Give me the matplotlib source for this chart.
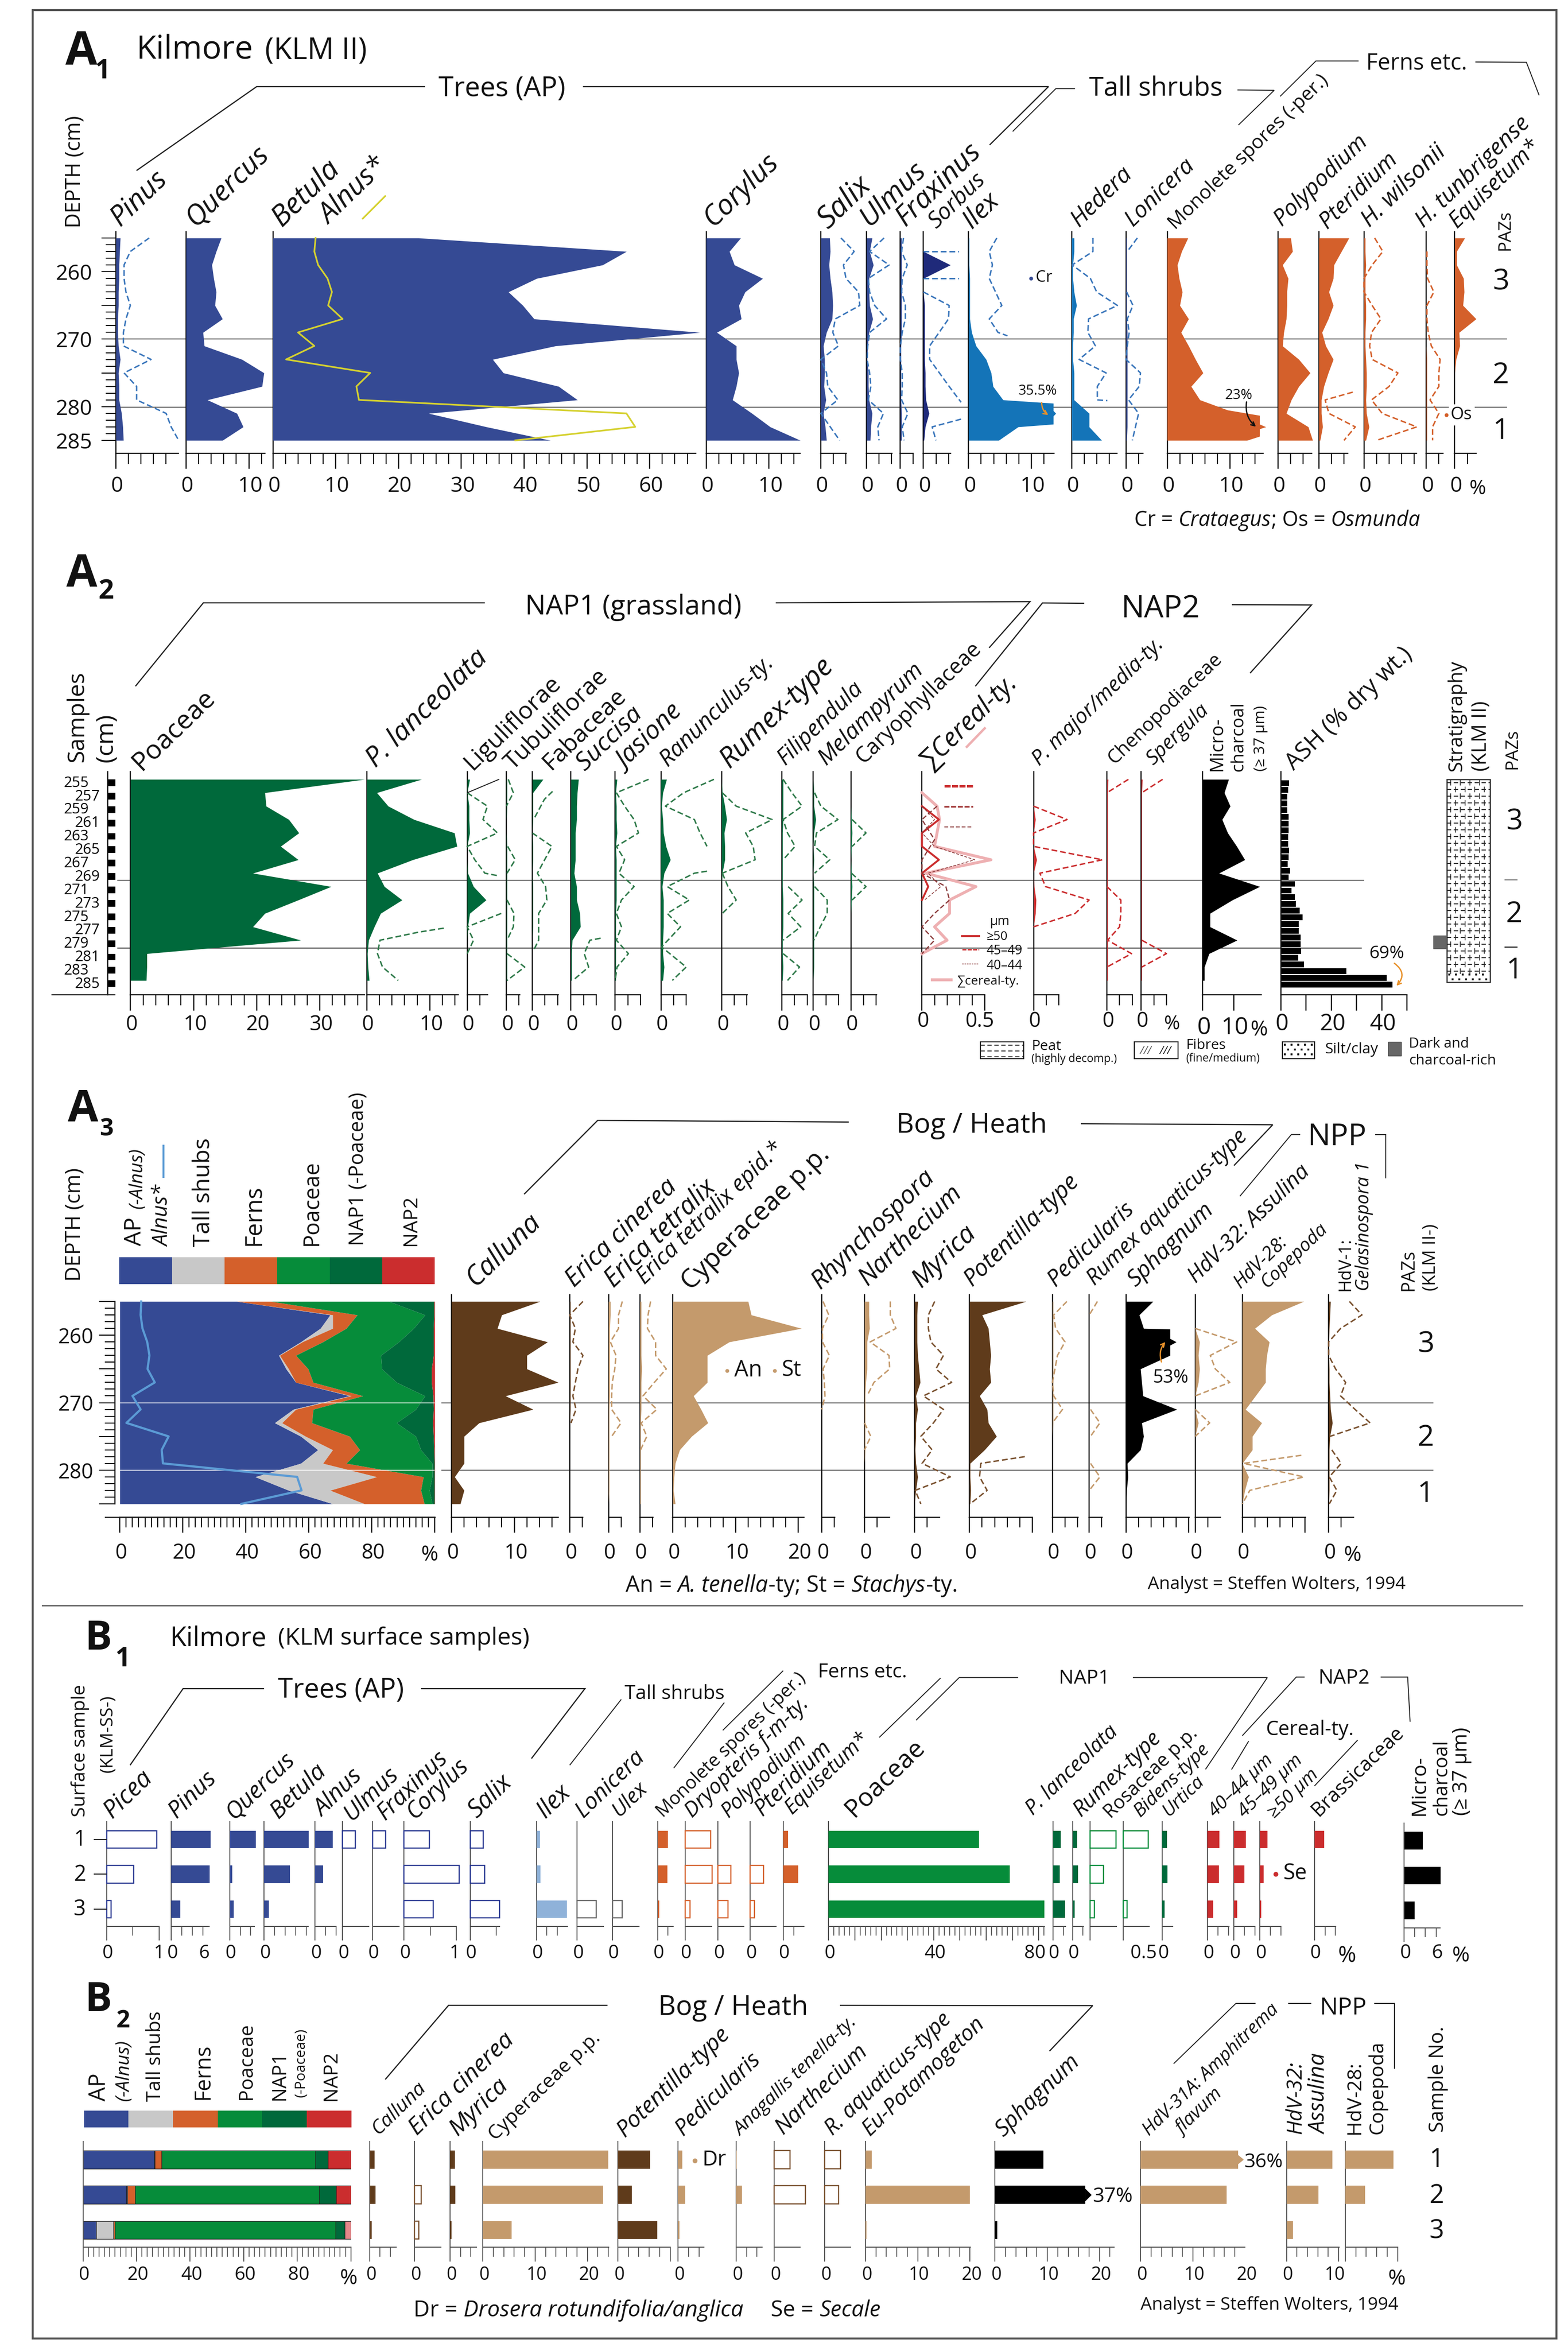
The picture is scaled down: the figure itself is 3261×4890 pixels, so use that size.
import numpy as np
import matplotlib
matplotlib.use("Agg")
import matplotlib.pyplot as plt
from matplotlib.font_manager import FontProperties
from matplotlib.textpath import TextPath
from matplotlib.patches import Rectangle
import warnings, logging
warnings.filterwarnings("ignore")
logging.getLogger("matplotlib.font_manager").setLevel(logging.ERROR)

plt.rcParams['font.family'] = ['Open Sans', 'DejaVu Sans']

# ---------- colours
BLUE='#354a94'; NAVY='#1f2a7a'; LBLUE='#1474b8'; DBLUE='#3a76bb'; PALE='#8fb2d9'
ORANGE='#d4602b'; GREEN='#068c3a'; DGREEN='#00693b'; DASHG='#2f7a4a'; RED='#cb2d2e'
BROWN='#5f3b1b'; TAN='#c49a6c'; GRAY='#c8c8c8'; PINK='#eeb0b2'; DRED='#8a3a3a'

# ---------- shared depth grid
DEPTHS=[255,257,259,261,263,265,267,269,271,273,275,277,279,281,283,285]
DEPTHS_TO_279=DEPTHS[:13]

# ---------- A1 values
a1_pinus=[.7,.6,.5,.5,.4,.4,.3,.3,.4,.7,.4,.5,.5,.9,1.1,1.2]
a1_pinus_x=[5.3,2.3,1.3,1.3,1.6,2.3,1.6,1.2,1.2,5.6,1.3,3.3,3.3,8,8.8,10]
a1_quercus=[5.6,4.8,4.1,4.4,4.8,4.6,5.8,2.7,2.9,8.9,12.4,12.1,3.4,8.1,9.1,5.8]
a1_betula=[23.2,56.3,52.5,42,37.5,39.8,41.6,68,45,35,36.7,45.5,48.5,24.8,34,44.2]
alnus=[6.8,6.6,7.2,8.7,9.4,8.8,11.1,4,6.6,2.1,15.5,13.3,13.7,56.3,57.7,38.6]
a1_corylus=[5.5,3.7,4.5,9,6.2,5.2,5.6,1.7,4.8,4.8,5.2,4.8,4.2,7.3,10.2,15]
a1_salix=[1.4,1.5,1.3,1.5,1.8,1.9,1.8,.9,.4,.6,.6,.5,.8,.4,.7,.9]
a1_salix_x=[3.2,5.3,3.6,4,6,6.2,2.3,1.9,2.8,0,.9,1.1,2.7,0,1.5,3]
a1_ulmus=[.9,.5,1.1,.4,.4,.5,1,.4,.2,.1,.3,.3,.4,.9,.7,.6]
a1_ulmus_x=[2.8,.5,3.6,.3,.5,1.3,3.2,.5,.2,.1,.5,.7,.3,2.7,1.8,2]
a1_frax=[.2,.2,.2,.2,.2,.2,.2,.2,.1,.1,.1,.1,.1,.2,.2,.2]
a1_frax_x=[.5,.2,1.1,.3,.2,.8,.8,.3,0,0,.3,.3,.2,1.2,.3,.6]
a1_sorbus=[0,0,4.3,0,0,.2,.2,.2,.2,.2,.3,.3,.4,.9,.3,.1]
a1_sorbus_x1_d=[257,257]; a1_sorbus_x1=[0,5.6]
a1_sorbus_x2_d=[261,261]; a1_sorbus_x2=[0,5.6]
a1_sorbus_x3_d=[263,265,267,271,273,277,279.35]; a1_sorbus_x3=[0,4.1,4,1,1,4.1,6]
a1_sorbus_x4_d=[281.85,283,285]; a1_sorbus_x4=[6,1.4,2]
a1_ilex_d=DEPTHS_TO_279+[279.5,280.6,281,281.4,282.6,283,285]
a1_ilex=[.1,.1,.1,.2,.2,.2,.2,.5,1.2,2.8,3.6,3.9,5.5,13.5,13.5,13.9,13.5,13.5,7.9,4.8]
a1_ilex_x_d=[255,257,259,261,263,265,267,269,269.5]
a1_ilex_x=[4.5,3.3,3.8,3.3,4.3,5.3,3.3,4.7,6.2]
a1_hedera=[.4,.4,.2,.2,.4,.8,.3,.3,.2,.2,.4,.4,.4,2.8,2.8,4.8]
a1_hedera_x_d=DEPTHS_TO_279+[279.1]
a1_hedera_x=[3.4,3.4,.1,3,4,7.3,2.7,2.6,3.8,1.2,5.5,4.1,4.1,5.7]
a1_lonicera=[.1,.1,.1,.1,.1,.1,.1,.2,.2,.2,.2,.2,.2,.2,.2,.1]
a1_lonicera_x=[1.8,.2,None,None,.1,1.1,.2,.5,.2,0,2.3,2.1,.4,2,1.5,1]
a1_monolete_d=DEPTHS_TO_279+[280.5,281.3,282.6,283,283.3,284.4,285]
a1_monolete=[3.3,2.3,1.6,1.9,2.4,2,3.4,2.2,3.4,4.5,5.7,3.8,5.2,9.6,14.7,14.7,15.7,14.7,14.7,12.7]
a1_polypod=[2,2.3,.7,1.6,1.4,1.4,1.3,.9,.7,3.3,5.1,3.3,2.1,1.3,4.8,5.5]
a1_pterid=[4.8,3.6,2.4,2.3,1.6,2.3,1.5,.5,1.1,2.3,1.5,.8,.4,.4,.6,.2]
a1_pterid_x_d=[277.85,279,281,283,285]; a1_pterid_x=[5.4,1,1.6,5.8,4]
a1_wilson=[.2,.2,.3,.2,.2,.3,.3,.2,.2,.3,.4,.4,.3,.4,.8,.3]
a1_wilson_x=[1.7,3,1.3,0,0,1.3,2.7,1.2,.9,1.3,5.4,4,1.2,2.9,8.4,2]
a1_tunbr_x=[None,.1,.1,.2,1.2,.1,.1,.3,.8,2.2,2,2,.6,2,1,1]
a1_tunbr=[0,0,0,0,0,0,0,0,0,.1,.1,.1,.1,.1,.1,.1]
a1_equis=[1.6,.3,.3,1.4,1.5,1.3,3.4,.7,.8,.2,0,0,0,0,0,0]

# ---------- A2 values
a2_poaceae=[37.1,21.3,21.5,25.1,26.7,23.8,26.6,19.4,31.8,26.6,21.3,19.4,27,2.6,2.6,2.5]
a2_plan=[8.7,1.6,3.4,7.5,13.9,14.3,7.3,1.7,2.8,5.6,2.2,1.2,.3,.1,.2,.4]
a2_plan_x_d=[277.2,277.8,279,281,283,285]; a2_plan_x=[12.2,8.2,2.1,1.7,2.5,5]
a2_ligul=[.4,0,.3,.3,.4,0,0,.1,1,3,.4,.1,0,0,0,0]
a2_ligul_x1_d=[257,259,261,263,265,267,269,269.4]; a2_ligul_x1=[0,3.2,2.5,4.8,0,1.2,2.8,5]
a2_ligul_x2_d=[275,277,279,281]; a2_ligul_x2=[5.4,0,1,0]
a2_tubul=[.1,.1,.1,0,0,.1,.1,.1,.1,.1,.1,.1,.1,.1,.1,.1]
a2_tubul_x1_d=[255,257,259]; a2_tubul_x1=[.3,1.1,0]
a2_tubul_x2_d=[265,267,269]; a2_tubul_x2=[.2,1.4,.1]
a2_tubul_x3_d=[273,275,277,279]; a2_tubul_x3=[.1,1.2,1.1,.1]
a2_tubul_x4_d=[281,283,285]; a2_tubul_x4=[.1,2.9,.1]
a2_fabac=[1.7,.1,.1,.1,0,.1,.1,0,.1,.1,.1,.1,0,0,0,0]
a2_fabac_x1_d=[256.8,258,261]; a2_fabac_x1=[3.2,1.9,.2]
a2_fabac_x2_d=[263,265,269,271,273,275,279,280.5]; a2_fabac_x2=[0,3.1,.8,2.1,2.3,1,1,.2]
a2_succ=[1.2,1,.9,.9,.7,.7,.7,.5,.9,.9,1.4,1.5,.2,.1,.1,.1]
a2_succ_x_d=[278.7,279,281,283,285]; a2_succ_x=[4.7,3,2.1,2.8,.3]
a2_jas=[.3,.1,.2,.2,.3,.1,.2,.2,.2,.2,.1,.1,.1,.1,.1,.1]
a2_jas_x=[5.3,.2,1.5,3,3.7,.2,1.5,.6,3,1,.2,1,.2,2.1,.3,0]
a2_ran=[.9,.3,.1,.3,.4,.8,1.5,.5,.2,.4,.4,.4,.3,.3,.5,.3]
a2_ran_x1_d=[255,257,259,261,263,265]; a2_ran_x1=[8.4,3.6,.7,5.3,6.2,7.3]
a2_ran_x2_d=[268.7,269,271,273,275,277,280,283,285]; a2_ran_x2=[7.3,5.3,1,4.5,1,3.1,.1,4,1.8]
a2_rum=[0,.1,.5,.8,.4,.5,.5,.1,0,0,0,0,0,0,0,0]
a2_rum_x1_d=[257,259,261,263,265,267,269]; a2_rum_x1=[.1,2.3,8,3.8,5,5.3,.1]
a2_rum_x2_d=[269,271,273,275]; a2_rum_x2=[.1,1,2.3,.1]
a2_fil=[.2,.2,.2,.2,.1,.1,.1,.1,.1,.2,.2,.2,.1,.1,.2,.1]
a2_fil_x1_d=[255,257,259,261,263,265,267]; a2_fil_x1=[.2,1.6,3.2,.2,.9,2.1,.2]
a2_fil_x2_d=[271,273,275,277,279]; a2_fil_x2=[1,3.2,1,3,.2]
a2_fil_x3_d=[281,283,285]; a2_fil_x3=[.2,2.8,.9]
a2_mel=[0,.1,.1,.4,.1,0,.1,0,.1,.1,.1,.1,.1,.1,.1,0]
a2_mel_x1_d=[257,259,261,263,265,267,269]; a2_mel_x1=[.2,1.2,3.9,.5,.2,2.6,.2]
a2_mel_x2_d=[271,273,275,277,279]; a2_mel_x2=[.2,2.2,2.2,1.1,.1]
a2_car=[0,0,0,.1,.2,.1,0,.1,.2,.1,0,0,0,0,0,0]
a2_car_x1_d=[261,263,265]; a2_car_x1=[.2,2.4,.2]
a2_car_x2_d=[269,271,273]; a2_car_x2=[.1,2.4,.2]
cer_d=[257,259,261,263,265,267,269,271,273,275,277,279,281]
cer_sum=[0,.12,.14,.12,.1,.55,.03,.43,.22,.22,.1,.2,0]
cer_50_d=[259,261,263,265,267,269,271,273]; cer_50=[0,.135,0,0,.135,0,.05,0]
cer_45_d=[259,261,264,267,269,271,273,275,277,279,281]; cer_45=[.12,0,.1,0,0,.19,.22,.1,0,.1,0]
cer_40_d=[259,261,263,265,267,269,271,273]; cer_40=[0,.1,0,.1,.42,.05,.15,.02]
a2_pmaj_d=[259,261,263,265,267,269,271,273,275,277]
a2_pmaj=[0,.3,0,0,.5,0,.1,.4,.3,0]
a2_pmaj_x=[0,5.3,0,0,10.9,1,1.9,8.8,6.6,0]
a2_cheno=[.2,.1,.1,.1,.1,.1,.1,.1,.1,.1,.1,.1,.1,.1,.1,.1]
a2_cheno_x1_d=[255,257]; a2_cheno_x1=[3.4,0]
a2_cheno_x2_d=[271,273,275,277,279,281,283]; a2_cheno_x2=[0,2.2,2.2,2,.1,3.9,0]
a2_sperg_x1_d=[255,257]; a2_sperg_x1=[3.4,.1]
a2_sperg_x2_d=[279,281,283]; a2_sperg_x2=[.1,4,.1]
a2_micro=[8.4,7,8.9,6.3,8.1,11,13.6,5.3,18.4,9.6,2.4,2.4,11.1,2.1,.6,.6]
ash_d=list(range(255,286))
ash=[3.3,3,2.6,2.6,2.6,3.2,3.2,3.2,3,3,3.3,3.2,2.8,3.7,3.2,5.5,4.2,5.5,6,7.4,8.6,7.2,7.2,7.9,7.8,8.1,7,9.3,26,41.9,44.2]
sample_blocks=DEPTHS

# ---------- A3 values
a3_ap=[37.2,66.8,63.7,57.5,50.5,52.8,55.9,73,55.1,49.2,57.5,62.9,57.5,43,53.6,67.6]
a3_tall=[0,.8,3.9,.5,.3,.8,0,.5,.8,2.3,1.5,4.7,7,38.6,13.2,10.1]
a3_ferns=[10.9,7.8,4.3,6.5,5.1,6.2,5.5,3.7,5.5,9.5,14,8.6,7.4,14.8,28.8,19]
a3_poac=[37.4,21.5,21.4,24.1,27,23.4,26.5,19.7,32.6,26.9,21,19.4,27.3,2.8,2.7,2.5]
a3_nap1=[14.3,2.9,6.3,11,16.7,15.8,11.1,2.6,5.6,11.5,5.6,4.2,.7,.7,1.6,.7]
a3_nap2=[.2,.2,.4,.4,.4,1,1,.5,.4,.6,.4,.2,.1,.1,.1,.1]
a3_call=[14.1,8,7.3,15.3,12,12,17,8.6,13,4.4,2,2,2,.5,2,1.4]
a3_ecin=[.1,.1,.1,.1,.1,.1,.1,.1,.1,0,0,0,0,0,0,0]
a3_ecin_x_d=DEPTHS[:10]; a3_ecin_x=[2.1,0,.9,.5,2.1,1.3,.9,.5,1,.2]
a3_etet=[.3,.3,.2,.2,.2,.2,.2,.2,.1,.1,.1,.1,.1,.1,.1,0]
a3_etet_x_d=DEPTHS[:11]; a3_etet_x=[2.2,1.6,1.6,.3,1.2,1,.6,.5,.5,2,.5]
a3_eep=[.2,.2,.2,.2,.2,.3,.2,.2,.2,.1,.1,.1,.1,.1,.1,.1]
a3_eep_x_d=DEPTHS[:12]; a3_eep_x=[1.7,1.3,1.2,2.5,2.5,4.2,2.3,.5,2.7,.2,1.1,.1]
a3_cyp=[12,12.5,20.5,9,5.5,5.5,5.5,3.3,4.5,5.6,3,1.1,.4,.2,.1,.4]
a3_rhy_x_d=DEPTHS[:9]; a3_rhy_x=[.2,1.1,.1,.1,1.2,.2,.4,.5,0]
a3_nar=[.7,.7,.8,.4,.4,.4,.2,.1,.1,.1,.1,.1,0,0,0,0]
a3_nar_x1_d=DEPTHS[:8]; a3_nar_x1=[4.1,4.1,5,.9,3.9,4,1.5,.4]
a3_nar_x2_d=[273,275,277]; a3_nar_x2=[0,1,0]
a3_myr=[.5,.4,.4,.4,.5,.7,.9,.2,.5,.2,.2,.1,.2,.5,.2,0]
a3_myr_x=[3.2,2.2,2.2,2.6,4.6,3.4,5.9,1.4,4.6,3,1,2.8,1.2,5.7,.1,1]
a3_pot=[9,2,3,3.2,3.4,3.2,3.4,1.6,2.8,3,4.3,2.4,.1,.1,.2,.1]
a3_pot_x_d=[278,279,281,283,285]; a3_pot_x=[8.8,1.8,1.6,2.8,.1]
a3_ped=[.1,.1,.1,.1,.1,.1,.1,.1,.1,.1,0,0,0,0,0,0]
a3_ped_x_d=DEPTHS[:10]; a3_ped_x=[2.3,.2,.5,2,.8,.4,0,.2,1.6,0]
a3_raq_x1_d=[255,257]; a3_raq_x1=[1.3,0]
a3_raq_x2_d=[271,273,275]; a3_raq_x2=[.2,1.7,.2]
a3_raq_x3_d=[279,281,283]; a3_raq_x3=[.2,1.7,0]
a3_sph_d=[255,257,259,259.1,260.5,261,261.5,263,265,267,269,271,273,275,277,279,281,283,285]
a3_sph=[4.3,2.1,2.8,7,7,8,7,7,2.3,2.5,2.7,8.1,2.5,2.8,2.3,.2,.3,.1,0]
a3_h32_d=[259,261,263,265,267,269,271,273,275]; a3_h32=[0,.7,.5,.7,.5,0,0,.5,0]
a3_h32_x1_d=[259,261,263,265,267,269]; a3_h32_x1=[0,6.6,2.4,3.2,5.5,0]
a3_h32_x2_d=[271,273,275]; a3_h32_x2=[0,2.3,0]
a3_h28=[9.8,4.7,2,4.3,3.9,3.7,3.7,2.1,.5,3.1,1.6,1.6,0,1,.4,0]
a3_h28_x_d=[277.8,279,281,283,285]; a3_h28_x=[9.4,.2,9.8,1.2,0]
a3_h1=[.3,.2,.1,0,0,.1,.1,.2,.3,.6,.2,.1,.1,.1,.1,0]
a3_h1_x1_d=DEPTHS[:11]; a3_h1_x1=[3.3,5.3,1.9,0,0,1.1,2.7,1.9,4.2,6.6,.2]
a3_h1_x2_d=[277,279,281,283,285]; a3_h1_x2=[.5,2,.1,1.3,.1]

# ---------- B1 values (samples 1, 2, 3)
SAMPLES=[1,2,3]
b1_picea=[.96,.52,.09]; b1_pinus=[7.5,7.3,1.7]; b1_quercus=[5,.5,.8]; b1_betula=[8.5,4.9,.9]
b1_alnus=[3.4,1.5,0]; b1_ulmus=[.24,0,0]; b1_frax=[.25,0,0]; b1_corylus=[.49,1.05,.56]
b1_salix=[.25,.28,.56]; b1_ilex=[.7,.8,5.8]; b1_lonic=[0,0,.36]; b1_ulex=[0,0,.19]
b1_monol=[2,1.9,.3]; b1_dryop=[.49,.52,.09]; b1_polyp=[0,.25,.19]; b1_pterid=[0,.25,.08]
b1_equis=[.9,2.9,0]; b1_poac=[57.2,69,82.2]; b1_plan=[1.5,1.3,2.3]; b1_rumex=[.9,1,.4]
b1_rosac=[.49,.25,.08]; b1_bidens=[.48,0,.08]; b1_urtica=[.85,.95,.4]
b1_c40=[2.3,2.2,1.1]; b1_c45=[2.3,2,.6]; b1_c50=[1.4,.7,.2]; b1_brass=[1.9,0,0]; b1_micro=[3.5,6.9,2]

# ---------- B2 values
b2_ap=[26.6,16.3,4.9]; b2_tall=[.2,.2,6.5]; b2_ferns=[2.5,2.9,.5]
b2_poac=[57.5,68.9,82.4]; b2_nap1=[4.6,6.2,3.5]; b2_nap2=[8.6,5.5,2.2]
b2_call=[1,1.1,.4]; b2_eric=[0,.12,.08]; b2_myr=[.9,1,.3]; b2_cyp=[24,23,5.5]; b2_pot=[6.2,2.7,7.6]
b2_ped=[.8,1.3,.2]; b2_ana=[.1,1.1,0]; b2_nar=[.3,.59,0]; b2_raq=[.3,.26,0]; b2_eup=[1.2,20,.2]
b2_sph=[9.3,17.3,.4]; b2_h31=[18.6,16.4,0]; b2_h32=[8.8,6.1,1.2]; b2_h28=[9.2,3.8,0]

# ---------- canvas
W,H=3261,4890
fig=plt.figure(figsize=(W/100,H/100),dpi=100,facecolor='white')
PT=.72
under=fig.add_axes([0,0,1,1],zorder=-5); over=fig.add_axes([0,0,1,1],zorder=20)
for a in (under,over):
    a.set_xlim(0,W); a.set_ylim(H,0); a.axis('off'); a.patch.set_alpha(0)

Z={1:(90,30,1.0204,.7015),2:(1650,30,1.0204,.7015),3:(90,1130,1.148,.6696),4:(1800,1130,.9247,.7015),
   5:(90,2230,1.0204,.7015),6:(1650,2230,1.0204,.7015),7:(90,3350,1.0204,.5102),8:(1650,3350,1.0204,.5102),
   9:(90,4100,1.0204,.5038),10:(1650,4100,1.0204,.5038)}
def X(n,x): return Z[n][0]+x*Z[n][2]
def Y(n,y): return Z[n][1]+y*Z[n][3]
def P(n,x,y): return (X(n,x),Y(n,y))

def fp(style='normal',weight='normal'):
    return FontProperties(family='Open Sans',style=style,weight=weight)
def kw(s,f):
    base=TextPath((0,0),'||',size=100,prop=f).get_extents().width
    return (TextPath((0,0),'|'+s+'|',size=100,prop=f).get_extents().width-base)/100
FAM=['Open Sans','DejaVu Sans']
ROMAN={'Poaceae','Cyperaceae p.p.','Liguliflorae','Tubuliflorae','Fabaceae','Rosaceae p.p.','Brassicaceae',
       'Chenopodiaceae','Caryophyllaceae','Monolete spores (-per.)','ASH (% dry wt.)'}
def ta(s,p0,p1,style='italic',theta=44):
    if s in ROMAN: style='normal'
    th=np.radians(theta); c,sn=np.cos(th),np.sin(th)
    w=p1[0]-p0[0]; h=p0[1]-p1[1]; D=(w+h)/(c+sn)
    em=D/(kw(s,fp(style))+.45)
    over.text((p0[0]+p1[0])/2,(p0[1]+p1[1])/2,s,rotation=theta,rotation_mode='anchor',ha='center',va='center',
              fontsize=em*PT,style=style,family=FAM,color='#111')
def tw(s,p0,x1,style='normal',weight='normal',color='#111',bg=False):
    em=(x1-p0[0])/kw(s,fp(style,weight))
    over.text(p0[0],p0[1]+.357*em,s,ha='left',va='baseline',fontsize=em*PT,style=style,weight=weight,family=FAM,color=color,
              bbox=dict(fc='white',ec='none',pad=3) if bg else None)
def tv(s,xc,y0,y1,style='normal'):
    em=(y0-y1)/kw(s,fp(style))
    over.text(xc+.357*em,y0,s,rotation=90,rotation_mode='anchor',ha='left',va='baseline',fontsize=em*PT,style=style,family=FAM,color='#111')
def rich(pieces,x0,x1,yc):
    k=sum(kw(s,fp(st)) for s,st in pieces); em=(x1-x0)/k; x=x0
    for s,st in pieces:
        over.text(x,yc+.357*em,s,ha='left',va='baseline',fontsize=em*PT,style=st,family=FAM,color='#111')
        x+=kw(s,fp(st))*em
def path(pts,lw=2.5,color='#222',ax=None):
    a=ax or over
    a.plot([p[0] for p in pts],[p[1] for p in pts],color=color,lw=lw*PT,solid_capstyle='butt',solid_joinstyle='miter')
def dot(p,color,r=6):
    over.plot([p[0]],[p[1]],'o',ms=r*PT*2,color=color,mew=0)
def arrow(p0,p1,color,rad=.3):
    over.annotate('',xy=p1,xytext=p0,arrowprops=dict(arrowstyle='->',color=color,lw=2,connectionstyle=f'arc3,rad={rad}',mutation_scale=14))

GA1=dict(top=482,base=943,ya=495,yb=916,a=255,b=285,maj=32,mi=22,dy=69,fs=32,ac='#111',lw=2.5)
GA2=dict(top=1605,base=2069,ya=1621,yb=2039.3,a=255,b=285,maj=33,mi=22,dy=63,fs=31,ac='#111',lw=2.5)
GA3=dict(top=2693,base=3156,ya=2707,yb=3128,a=255,b=285,maj=32,mi=21,dy=75,fs=31,ac='#111',lw=2.5)
GB1=dict(top=3789,base=4007,ya=3826,yb=3971,a=1,b=3,maj=29,mi=19,dy=56,fs=28,ac='#555',lw=2)
GB2=dict(top=4454,base=4674,ya=4492,yb=4638.6,a=1,b=3,maj=30,mi=20,dy=58,fs=27,ac='#555',lw=2)

def panel(g,x0,xmax,scale,major=10,minor=2,labels=('0',),label_vals=(0,),dy=None,fs=None):
    w=xmax*scale
    ax=fig.add_axes([x0/W,1-g['base']/H,w/W,(g['base']-g['top'])/H])
    ax.patch.set_alpha(0)
    k=(g['yb']-g['ya'])/(g['b']-g['a'])
    ax.set_ylim(g['a']+(g['base']-g['ya'])/k,g['a']+(g['top']-g['ya'])/k)
    ax.set_xlim(0,xmax)
    for s in ('top','right'): ax.spines[s].set_visible(False)
    for s in ('left','bottom'):
        ax.spines[s].set_linewidth(g['lw']*PT); ax.spines[s].set_color(g['ac'])
    ax.set_xticks(np.arange(0,xmax+1e-6,major))
    if minor: ax.set_xticks(np.arange(0,xmax+1e-6,minor),minor=True)
    ax.tick_params(axis='x',which='major',length=g['maj']*PT,width=g['lw']*PT,color=g['ac'],labelbottom=False)
    ax.tick_params(axis='x',which='minor',length=g['mi']*PT,width=g['lw']*.9*PT,color=g['ac'])
    ax.set_yticks([])
    for v,t in zip(label_vals,labels):
        ax.annotate(t,xy=(v,0),xycoords=('data','axes fraction'),xytext=(2,-(dy or g['dy'])*PT),textcoords='offset points',
                    ha='center',va='center',fontsize=fs or g['fs'],color='#111',family=FAM)
    return ax
def fill(ax,v,color,d=DEPTHS):
    ax.fill_betweenx(d,0,v,color=color,lw=0,clip_on=False,zorder=3)
def dash(ax,v,color,d=DEPTHS,lw=3,ds=(4,2)):
    vv=[np.nan if q is None else q for q in v]
    ax.plot(vv,d,color=color,lw=lw*PT,dashes=ds,clip_on=False,zorder=4)

# ==================== A1
UA=12.8
def a1(n,x0,xend,**k): return panel(GA1,X(n,x0),(xend-x0)/UA,13.06,**k)
under.plot([X(1,148),X(2,1453)],[Y(1,962)]*2,color='#666',lw=2.2*PT)
under.plot([X(1,148),X(2,1453)],[Y(1,1165)]*2,color='#666',lw=2.2*PT)
ax=a1(1,148,275); fill(ax,a1_pinus,BLUE); dash(ax,a1_pinus_x,DBLUE)
ax.yaxis.set_ticks_position('left')
ax.set_yticks([255,260,265,270,275,280,285],['','260','','270','','280','285'],fontsize=32,color='#111')
ax.set_yticks(ash_d,minor=True)
ax.tick_params(axis='y',which='major',length=30*PT,width=2*PT,pad=14)
ax.tick_params(axis='y',which='minor',length=21*PT,width=2*PT)
ax=a1(1,291,452,labels=('0','10'),label_vals=(0,10)); fill(ax,a1_quercus,BLUE)
ax=a1(1,468,1330,labels=('0','10','20','30','40','50','60'),label_vals=(0,10,20,30,40,50,60))
fill(ax,a1_betula,BLUE); ax.plot(alnus,DEPTHS,color='#d5d130',lw=3.5*PT,clip_on=False,zorder=5)
ax=a1(1,1351,1543,labels=('0','10'),label_vals=(0,10)); fill(ax,a1_corylus,BLUE)
ax=a1(2,56,108); fill(ax,a1_salix,BLUE); dash(ax,a1_salix_x,DBLUE)
ax=a1(2,149,201); fill(ax,a1_ulmus,BLUE); dash(ax,a1_ulmus_x,DBLUE)
ax=a1(2,218,244); fill(ax,a1_frax,BLUE); dash(ax,a1_frax_x,DBLUE)
ax=a1(2,265,320); fill(ax,a1_sorbus,NAVY)
for d_,v_ in ((a1_sorbus_x1_d,a1_sorbus_x1),(a1_sorbus_x2_d,a1_sorbus_x2),(a1_sorbus_x3_d,a1_sorbus_x3),(a1_sorbus_x4_d,a1_sorbus_x4)):
    dash(ax,v_,DBLUE,d=d_)
ax=a1(2,357,531,labels=('0','10'),label_vals=(0,10)); fill(ax,a1_ilex,LBLUE,d=a1_ilex_d); dash(ax,a1_ilex_x,DBLUE,d=a1_ilex_x_d)
ax=a1(2,567,660); fill(ax,a1_hedera,LBLUE); dash(ax,a1_hedera_x,DBLUE,d=a1_hedera_x_d)
ax=a1(2,678,712); fill(ax,a1_lonicera,BLUE); dash(ax,a1_lonicera_x,DBLUE)
ax=a1(2,762,957,labels=('0','10'),label_vals=(0,10)); fill(ax,a1_monolete,ORANGE,d=a1_monolete_d)
ax=a1(2,988,1056); fill(ax,a1_polypod,ORANGE)
ax=a1(2,1071,1130); fill(ax,a1_pterid,ORANGE); dash(ax,a1_pterid_x,ORANGE,d=a1_pterid_x_d)
ax=a1(2,1163,1270); fill(ax,a1_wilson,ORANGE); dash(ax,a1_wilson_x,ORANGE)
ax=a1(2,1290,1324); fill(ax,a1_tunbr,ORANGE); dash(ax,a1_tunbr_x,ORANGE)
ax=a1(2,1348,1392); fill(ax,a1_equis,ORANGE)

tw('A',P(1,45,100),X(1,110),weight='bold'); tw('1',(198,143),230,weight='bold')
tw('Kilmore',P(1,190,98),X(1,428)); tw('(KLM II)',P(1,452,100),X(1,660))
tw('Trees (AP)',P(1,806,212),X(1,1065)); tw('Tall shrubs',P(2,603,212),X(2,875)); tw('Ferns etc.',P(2,1167,140),X(2,1373))
path([P(1,190,463),P(1,435,214),P(1,778,214)]); path([P(1,1100,214),P(2,520,214),P(2,400,387)])
path([P(2,447,347),P(2,535,220),P(2,574,220)],lw=2); path([P(2,905,224),P(2,980,225),P(2,907,328)],lw=2)
path([P(2,992,243),P(2,1065,138),P(2,1152,138)],lw=2); path([P(2,1390,141),P(2,1494,142),P(2,1520,240)],lw=2)
tv('DEPTH (cm)',X(1,60),Y(1,633),Y(1,300))
tv('PAZs',X(2,1447),Y(2,700),Y(2,580))
LAB_A1=[('Pinus',1,135,625,255,465),('Quercus',1,290,628,462,390),('Betula',1,465,628,605,430),('Alnus*',1,570,632,695,418),
 ('Corylus',1,1345,628,1500,412),('Salix',2,50,635,160,480),('Ulmus',2,135,628,272,437),('Fraxinus',2,208,628,382,380),
 ('Sorbus',2,275,635,392,470),('Ilex',2,345,635,420,527),('Hedera',2,565,628,692,452),('Lonicera',2,675,628,818,428),
 ('Monolete spores (-per.)',2,762,635,1095,183),('Polypodium',2,980,628,1170,355),('Pteridium',2,1072,635,1232,408),
 ('H. wilsonii',2,1160,635,1328,383),('H. tunbrigense',2,1270,635,1500,300),('Equisetum*',2,1340,640,1517,365)]
for s,n,a,b,c,d in LAB_A1: ta(s,P(n,a,b),P(n,c,d))
path([P(1,650,607),P(1,698,537)],lw=3.5,color='#d5d130')
for s,y in (('3',785),('2',1062),('1',1228)): tw(s,P(2,1425,y),X(2,1459))
tw('35.5%',P(2,458,1113),X(2,537)); tw('23%',P(2,880,1125),X(2,936))
tw('Cr',P(2,494,775),X(2,528)); dot(P(2,484,783),BLUE,4)
tw('Os',P(2,1340,1182),X(2,1384),bg=True); dot(P(2,1331,1188),ORANGE,4)
arrow(P(2,506,1147),P(2,522,1190),'#e8912a'); arrow(P(2,924,1145),P(2,945,1225),'#111')
tw('%',P(2,1378,1402),X(2,1412))
rich([('Cr = ','normal'),('Crataegus','italic'),('; Os = ','normal'),('Osmunda','italic')],X(2,695),X(2,1278),Y(2,1495))

# ==================== A2
under.plot([X(3,135),X(4,1120)],[Y(3,1047)]*2,color='#666',lw=2.2*PT)
under.plot([X(3,135),X(4,350)],[Y(3,1257)]*2,color='#444',lw=2.2*PT)
under.plot([X(4,365),X(4,1115)],[Y(3,1257)]*2,color='#444',lw=2.2*PT)
U3=11.43
def a2(x0,xend,**k): return panel(GA2,X(3,x0),(xend-x0)/U3,13.12,**k)
ax=panel(GA2,X(3,117),1,16,major=1,minor=None,labels=(),label_vals=())
ax.barh(sample_blocks,[1]*16,height=1,align='edge',color='black')
ax.spines['bottom'].set_visible(False); ax.set_xticks([])
for i,s in enumerate(sample_blocks):
    ax.annotate(str(s),xy=(0,s+.55),xycoords=('axes fraction','data'),xytext=((-(57 if i%2==0 else 37))*PT*1.148,0),textcoords='offset points',ha='center',va='center',fontsize=22,family=FAM)
path([P(3,15,1402),P(3,131,1402)])
ax=a2(158,582,labels=('0','10','20','30'),label_vals=(0,10,20,30)); fill(ax,a2_poaceae,DGREEN)
GRN=DGREEN
ax=a2(586,752,labels=('0','10'),label_vals=(0,10)); fill(ax,a2_plan,GRN); dash(ax,a2_plan_x,DASHG,d=a2_plan_x_d)
ax=a2(768,805); fill(ax,a2_ligul,GRN); dash(ax,a2_ligul_x1,DASHG,d=a2_ligul_x1_d); dash(ax,a2_ligul_x2,DASHG,d=a2_ligul_x2_d)
ax=a2(839,863); fill(ax,a2_tubul,GRN)
for d_,v_ in ((a2_tubul_x1_d,a2_tubul_x1),(a2_tubul_x2_d,a2_tubul_x2),(a2_tubul_x3_d,a2_tubul_x3),(a2_tubul_x4_d,a2_tubul_x4)): dash(ax,v_,DASHG,d=d_)
ax=a2(886,933); fill(ax,a2_fabac,GRN); dash(ax,a2_fabac_x1,DASHG,d=a2_fabac_x1_d); dash(ax,a2_fabac_x2,DASHG,d=a2_fabac_x2_d)
ax=a2(956,1002); fill(ax,a2_succ,GRN); dash(ax,a2_succ_x,DASHG,d=a2_succ_x_d)
ax=a2(1036,1082); fill(ax,a2_jas,GRN); dash(ax,a2_jas_x,DASHG)
ax=a2(1119,1165); fill(ax,a2_ran,GRN); dash(ax,a2_ran_x1,DASHG,d=a2_ran_x1_d); dash(ax,a2_ran_x2,DASHG,d=a2_ran_x2_d)
ax=a2(1229,1275); fill(ax,a2_rum,GRN); dash(ax,a2_rum_x1,DASHG,d=a2_rum_x1_d); dash(ax,a2_rum_x2,DASHG,d=a2_rum_x2_d)
ax=a2(1338,1384); fill(ax,a2_fil,GRN)
for d_,v_ in ((a2_fil_x1_d,a2_fil_x1),(a2_fil_x2_d,a2_fil_x2),(a2_fil_x3_d,a2_fil_x3)): dash(ax,v_,DASHG,d=d_)
ax=a2(1395,1441); fill(ax,a2_mel,GRN); dash(ax,a2_mel_x1,DASHG,d=a2_mel_x1_d); dash(ax,a2_mel_x2,DASHG,d=a2_mel_x2_d)
ax=a2(1463,1510); fill(ax,a2_car,GRN); dash(ax,a2_car_x1,DASHG,d=a2_car_x1_d); dash(ax,a2_car_x2,DASHG,d=a2_car_x2_d)
path([P(3,768,775),P(3,826,733)],lw=2)

U4=14.2
def a2b(x0,xend,**k): return panel(GA2,X(4,x0),(xend-x0)/U4,13.13,dy=56,**k)
ax=panel(GA2,X(4,127),.5,261,major=.5,minor=.1,labels=('0','0.5'),label_vals=(0,.45),dy=56)
ax.plot(cer_sum,cer_d,color=PINK,lw=6*PT,clip_on=False,zorder=3)
ax.plot(cer_50,cer_50_d,color=RED,lw=4*PT,clip_on=False,zorder=4)
dash(ax,cer_45,DRED,d=cer_45_d,lw=2.5); dash(ax,cer_40,DRED,d=cer_40_d,lw=1.5)
ax.plot([.18,.41],[256,256],color=RED,lw=5*PT,dashes=(2.5,.6),clip_on=False)
ax.plot([.18,.41],[259.1,259.1],color='#a23a3a',lw=3.5*PT,dashes=(3,1),clip_on=False)
ax.plot([.18,.41],[262.1,262.1],color=DRED,lw=2*PT,dashes=(4,2),clip_on=False)
ax=a2b(378,435); fill(ax,a2_pmaj,RED,d=a2_pmaj_d); dash(ax,a2_pmaj_x,RED,d=a2_pmaj_d)
ax=a2b(543,600); fill(ax,a2_cheno,RED); dash(ax,a2_cheno_x1,RED,d=a2_cheno_x1_d); dash(ax,a2_cheno_x2,RED,d=a2_cheno_x2_d)
ax=a2b(620,677); fill(ax,a2_cheno,RED); dash(ax,a2_sperg_x1,RED,d=a2_sperg_x1_d); dash(ax,a2_sperg_x2,RED,d=a2_sperg_x2_d)
ax=panel(GA2,X(4,758),(890-758)/7,6.47,major=10,minor=None,labels=('0','10'),label_vals=(0,10),dy=69,fs=36); fill(ax,a2_micro,'black')
ax=panel(GA2,X(4,934),(1218-934)/5.675,5.25,major=10,minor=None,labels=('0','20','40'),label_vals=(0,20,40),dy=61,fs=34)
ax.barh(np.array(ash_d)+.6,ash,height=.85,color='black',clip_on=False)

tw('A',P(3,42,85),X(3,98),weight='bold'); tw('2',P(3,100,142),X(3,128),weight='bold')
tw('NAP1 (grassland)',P(3,873,190),X(3,1265))
tw('NAP2',P(4,575,187),X(4,752))
path([P(3,167,444),P(3,290,185),P(3,800,185)]); path([P(3,1327,185),P(4,370,173),P(4,278,310)])
path([P(4,247,424),P(4,398,177),P(4,492,178)]); path([P(4,824,182),P(4,1003,183),P(4,865,385)])
tv('Samples',X(3,58),Y(3,680),Y(3,397)); tv('(cm)',X(3,110),Y(3,680),Y(3,530))
LAB_A2=[('Poaceae',3,158,700,315,460),('P. lanceolata',3,585,697,805,330),('Liguliflorae',3,760,703,940,415),
 ('Tubuliflorae',3,835,703,1025,395),('Fabaceae',3,903,703,1058,455),('Succisa',3,965,705,1088,510),('Jasione',3,1040,705,1160,505),
 ('Ranunculus-ty.',3,1115,690,1325,352),('Rumex-type',3,1225,697,1432,355),('Filipendula',3,1330,690,1485,430)]
for s,n,a,b,c,d in LAB_A2: ta(s,P(n,a,b),P(n,c,d))
ta('Melampyrum',P(3,1403,690),P(4,130,355)); ta('Caryophyllaceae',P(3,1472,685),P(4,262,295))
ta('∑Cereal-ty.',P(4,122,668),P(4,340,385)); path([P(4,226,606),P(4,270,546)],lw=5,color=PINK)
ta('P. major/media-ty.',P(4,375,660),P(4,672,280)); ta('Chenopodiaceae',P(4,545,655),P(4,803,327))
ta('Spergula',P(4,633,660),P(4,772,477)); ta('ASH (% dry wt.)',P(4,948,675),P(4,1228,305))
tv('Micro-',X(4,787),Y(4,675),Y(4,515)); tv('charcoal',X(4,835),Y(4,675),Y(4,470)); tv('(≥ 37 μm)',X(4,885),Y(4,675),Y(4,480))
tv('Stratigraphy',X(4,1325),Y(4,675),Y(4,345)); tv('(KLM II)',X(4,1380),Y(4,675),Y(4,467)); tv('PAZs',X(4,1450),Y(4,670),Y(4,550))
tw('%',P(4,672,1420),X(4,708)); tw('%',P(4,866,1437),X(4,905))
for s,y in (('3',818),('2',1093),('1',1260)): tw(s,P(4,1441,y),X(4,1478))
path([P(4,1437,998),P(4,1466,998)],color='#888'); path([P(4,1437,1197),P(4,1466,1197)],color='#333')
tw('69%',P(4,1133,1212),X(4,1212))
arrow(P(4,1187,1243),P(4,1192,1315),'#e8912a',rad=-.6)
# stratigraphy column and legend
def peat(x0,x1,y0,y1,ticks=True,step=14):
    for i,y in enumerate(np.arange(y0+7,y1,step)):
        over.plot([x0,x1],[y,y],color='#222',lw=1.3,dashes=(5,3))
        if ticks:
            for x in np.arange(x0+8+(i%2)*10,x1-4,20):
                over.plot([x,x],[y-5,y+5],color='#222',lw=1.1)
def silt(x0,x1,y0,y1):
    for j,y in enumerate(np.arange(y0+6,y1,10)):
        for x in np.arange(x0+5+(j%2)*7,x1-3,14):
            over.plot([x],[y],'s',ms=2.4,color='#111',mew=0)
sx0,sx1=X(4,1307),X(4,1405)
peat(sx0,sx1,Y(4,700),Y(4,1270)); silt(sx0,sx1,Y(4,1270),Y(4,1302))
over.add_patch(Rectangle((sx0,Y(4,700)),sx1-sx0,Y(4,1302)-Y(4,700),fill=False,ec='#333',lw=1.8))
over.add_patch(Rectangle((X(4,1277),Y(4,1163)),X(4,1305)-X(4,1277),Y(4,1202)-Y(4,1163),fc='#666',ec='#555'))
over.plot([X(4,217),X(4,255)],[Y(4,1165)]*2,color=RED,lw=3)
over.plot([X(4,217),X(4,255)],[Y(4,1205)]*2,color=RED,lw=2,dashes=(3,1))
over.plot([X(4,217),X(4,255)],[Y(4,1247)]*2,color=DRED,lw=1.2,dashes=(2,1))
over.plot([X(4,150),X(4,192)],[Y(4,1295)]*2,color=PINK,lw=4.5)
tw('µm',P(4,280,1118),X(4,325)); tw('≥50',P(4,272,1163),X(4,320)); tw('45–49',P(4,272,1205),X(4,353)); tw('40–44',P(4,272,1250),X(4,353))
over.text(X(4,205),Y(4,1308),'∑cereal-ty.',ha='left',va='baseline',fontsize=19,family=FAM,color='#111')
peat(X(4,258),X(4,356),Y(4,1478),Y(4,1528),ticks=False,step=12)
over.add_patch(Rectangle((X(4,258),Y(4,1478)),X(4,356)-X(4,258),Y(4,1528)-Y(4,1478),fill=False,ec='#222',lw=1.6))
tw('Peat',P(4,373,1487),X(4,440)); tw('(highly decomp.)',P(4,373,1527),X(4,565))
over.add_patch(Rectangle((X(4,605),Y(4,1478)),X(4,703)-X(4,605),Y(4,1528)-Y(4,1478),fill=False,ec='#222',lw=1.6))
tw('///',P(4,617,1503),X(4,642),style='italic',color='#555'); tw('///',P(4,662,1503),X(4,687),style='italic')
tw('Fibres',P(4,720,1485),X(4,810)); tw('(fine/medium)',P(4,720,1525),X(4,886))
silt(X(4,938),X(4,1010),Y(4,1478),Y(4,1528))
over.add_patch(Rectangle((X(4,938),Y(4,1478)),X(4,1010)-X(4,938),Y(4,1528)-Y(4,1478),fill=False,ec='#222',lw=1.6))
tw('Silt/clay',P(4,1033,1497),X(4,1153))
over.add_patch(Rectangle((X(4,1176),Y(4,1478)),X(4,1205)-X(4,1176),Y(4,1520)-Y(4,1478),fc='#666',ec='#444'))
tw('Dark and',P(4,1222,1480),X(4,1357)); tw('charcoal-rich',P(4,1222,1530),X(4,1417))

# ==================== A3
under.plot([X(5,812),X(6,1303)],[Y(5,981)]*2,color='#666',lw=2.2*PT)
under.plot([X(5,812),X(6,1303)],[Y(5,1181)]*2,color='#666',lw=2.2*PT)
def a3(n,x0,xend,**k): return panel(GA3,X(n,x0),(xend-x0)/UA,13.06,**k)
ax=panel(GA3,X(5,156),100,6.55,major=20,minor=2,labels=('0','20','40','60','80'),label_vals=(0,20,40,60,80))
left=np.zeros(16)
for v,c in zip((a3_ap,a3_tall,a3_ferns,a3_poac,a3_nap1,a3_nap2),(BLUE,GRAY,ORANGE,GREEN,DGREEN,RED)):
    ax.fill_betweenx(DEPTHS,left,left+np.array(v),color=c,lw=0); left=left+np.array(v)
ax.axhline(270,color='white',lw=1.6*PT,zorder=3); ax.axhline(280,color='white',lw=1.6*PT,zorder=3)
ax.plot(alnus,DEPTHS,color='#5b9bd5',lw=4.5*PT,zorder=4)
ax.spines['left'].set_visible(False)
ax2=panel(GA3,X(5,146),1,1,major=1,minor=None,labels=(),label_vals=())
ax2.spines['bottom'].set_visible(False); ax2.set_xticks([])
ax2.set_ylim(ax.get_ylim())
ax2.spines['left'].set_bounds(255,285)
ax2.set_yticks([255,260,265,270,275,280,285],['','260','','270','','280',''],fontsize=31,color='#111')
ax2.set_yticks(ash_d,minor=True)
ax2.tick_params(axis='y',which='major',length=33*PT,width=2*PT,pad=8)
ax2.tick_params(axis='y',which='minor',length=21*PT,width=2*PT)
path([P(5,125,1320),P(5,800,1320)])
for i,c in enumerate((BLUE,GRAY,ORANGE,GREEN,DGREEN,RED)):
    x0_=X(5,155)+i*(X(5,798)-X(5,155))/6
    over.add_patch(Rectangle((x0_,Y(5,549)),(X(5,798)-X(5,155))/6,Y(5,628)-Y(5,549),fc=c,ec='none'))

ax=a3(5,832,1050,labels=('0','10'),label_vals=(0,10)); fill(ax,a3_call,BROWN)
ax=a3(5,1073,1100); fill(ax,a3_ecin,BROWN); dash(ax,a3_ecin_x,'#7a5230',d=a3_ecin_x_d)
ax=a3(5,1152,1178); fill(ax,a3_etet,TAN); dash(ax,a3_etet_x,TAN,d=a3_etet_x_d)
ax=a3(5,1216,1243); fill(ax,a3_eep,TAN); dash(ax,a3_eep_x,TAN,d=a3_eep_x_d)
ax=a3(5,1283,1550,labels=('0','10','20'),label_vals=(0,10,20)); fill(ax,a3_cyp,TAN)
ax=a3(6,58,84); dash(ax,a3_rhy_x,TAN,d=a3_rhy_x_d)
ax=a3(6,145,196); fill(ax,a3_nar,TAN); dash(ax,a3_nar_x1,TAN,d=a3_nar_x1_d); dash(ax,a3_nar_x2,TAN,d=a3_nar_x2_d)
ax=a3(6,247,298); fill(ax,a3_myr,BROWN); dash(ax,a3_myr_x,'#7a5230')
ax=a3(6,359,487); fill(ax,a3_pot,BROWN); dash(ax,a3_pot_x,'#7a5230',d=a3_pot_x_d)
ax=a3(6,528,580); fill(ax,a3_ped,TAN); dash(ax,a3_ped_x,TAN,d=a3_ped_x_d)
ax=a3(6,603,629); dash(ax,a3_raq_x1,TAN,d=a3_raq_x1_d); dash(ax,a3_raq_x2,TAN,d=a3_raq_x2_d); dash(ax,a3_raq_x3,TAN,d=a3_raq_x3_d)
ax=a3(6,678,807); fill(ax,a3_sph,'black',d=a3_sph_d)
ax=a3(6,819,870); fill(ax,a3_h32,TAN,d=a3_h32_d); dash(ax,a3_h32_x1,TAN,d=a3_h32_x1_d); dash(ax,a3_h32_x2,TAN,d=a3_h32_x2_d)
ax=a3(6,915,1044); fill(ax,a3_h28,TAN); dash(ax,a3_h28_x,TAN,d=a3_h28_x_d)
ax=a3(6,1091,1142); fill(ax,a3_h1,BROWN); dash(ax,a3_h1_x1,'#7a5230',d=a3_h1_x1_d); dash(ax,a3_h1_x2,'#7a5230',d=a3_h1_x2_d)

tw('A',P(5,50,100),X(5,112),weight='bold'); tw('3',P(5,115,162),X(5,143),weight='bold')
tv('DEPTH (cm)',X(5,60),Y(5,620),Y(5,283))
tv('AP',X(5,182),Y(5,515),Y(5,430)); tv('(-Alnus)',X(5,187),Y(5,405),Y(5,225),style='italic')
tv('Alnus*',X(5,240),Y(5,517),Y(5,335),style='italic'); path([P(5,245,313),P(5,245,215)],lw=4,color='#5b9bd5')
tv('Tall shubs',X(5,322),Y(5,517),Y(5,195)); tv('Ferns',X(5,425),Y(5,515),Y(5,335)); tv('Poaceae',X(5,543),Y(5,515),Y(5,262))
tv('NAP1 (-Poaceae)',X(5,638),Y(5,515),Y(5,60)); tv('NAP2',X(5,745),Y(5,515),Y(5,365))
LAB_A3=[('Calluna',5,862,635,1015,420),('Erica cinerea',5,1065,640,1290,315),('Erica tetralix',5,1145,640,1370,318),
 ('Erica tetralix epid.*',5,1215,638,1502,200),('Rhynchospora',6,38,645,288,288),('Narthecium',6,135,635,343,333),('Myrica',6,243,640,372,452),
 ('Potentilla-type',6,348,635,582,303),('Pedicularis',6,518,635,695,385),('Rumex aquaticus-type',6,600,635,925,170),('Sphagnum',6,682,637,857,388),
 ('HdV-32: Assulina',6,805,625,1053,275),('HdV-28:',6,895,637,1010,490),('Copepoda',6,952,640,1090,450)]
for s,n,a,b,c,d in LAB_A3: ta(s,P(n,a,b),P(n,c,d))
ta('Cyperaceae p.p.',P(5,1298,642),P(6,78,225))
path([P(5,980,362),P(5,1130,143),P(6,113,148)]); tw('Bog / Heath',P(6,210,150),X(6,517))
path([P(6,586,153),P(6,977,156),P(6,898,277)]); path([P(6,910,368),P(6,1015,185),P(6,1033,185)],lw=2)
tw('NPP',P(6,1048,185),X(6,1168)); path([P(6,1186,185),P(6,1207,185),P(6,1207,315)],lw=2)
tv('HdV-1:',X(6,1122),Y(6,648),Y(6,490)); tv('Gelasinospora 1',X(6,1160),Y(6,648),Y(6,265),style='italic')
tv('PAZs',X(6,1250),Y(6,648),Y(6,525)); tv('(KLM II-)',X(6,1295),Y(6,648),Y(6,450))
for s,y in (('3',800),('2',1077),('1',1243)): tw(s,P(6,1272,y),X(6,1306))
tw('53%',P(6,733,902),X(6,806)); arrow(P(6,751,863),P(6,760,797),'#e8912a',rad=-.3)
tw('An',P(5,1408,878),X(5,1465)); dot(P(5,1394,885),TAN,4); tw('St',P(5,1505,878),X(5,1545)); dot(P(5,1491,885),TAN,4)
rich([('An = ','normal'),('A. tenella','italic'),('-ty; St = ','normal'),('Stachys','italic'),('-ty.','normal')],X(5,1187),X(6,335),Y(5,1518))
tw('Analyst = Steffen Wolters, 1994',P(6,722,1513),X(6,1247))
tw('%',P(5,770,1427),X(5,805)); tw('%',P(6,1122,1427),X(6,1158))

# ==================== B1
path([(87,3340),(3168,3340)],lw=2.5,color='#555')
def b(g,n,x0,xend,unit,vals,color,hollow=False,major=10,minor=2,labels=('0',),label_vals=(0,),sc=1.0204,**k):
    ax=panel(g,X(n,x0),(xend-x0)/unit,unit*sc,major=major,minor=minor,labels=labels,label_vals=label_vals,**k)
    h=.5 if g is GB1 else .515
    if hollow:
        ax.barh(SAMPLES,vals,height=h,facecolor='none',edgecolor=[color if v>0 else 'none' for v in vals],lw=2.5*PT,clip_on=False,zorder=3)
    else:
        ax.barh(SAMPLES,vals,height=h,color=color,clip_on=False,zorder=3)
    return ax
HB='#2b3a92'; HG='#666666'; HB2='#7a5230'
U=10.7; T=107
b(GB1,7,129,236,T,b1_picea,HB,True,major=1,minor=.5,labels=('0','1'),label_vals=(0,.97))
b(GB1,7,261,338,U,b1_pinus,BLUE,labels=('0','6'),label_vals=(0,6))
b(GB1,7,380,430,U,b1_quercus,BLUE); b(GB1,7,450,540,U,b1_betula,BLUE); b(GB1,7,554,597,U,b1_alnus,BLUE)
b(GB1,7,610,663,T,b1_ulmus,HB,True,major=1,minor=None); b(GB1,7,671,725,T,b1_frax,HB,True,major=1,minor=None)
b(GB1,7,735,842,T,b1_corylus,HB,True,major=1,minor=.5,labels=('0','1'),label_vals=(0,.94))
b(GB1,7,870,930,T,b1_salix,HB,True,major=1,minor=.5)
b(GB1,7,1005,1068,U,b1_ilex,PALE); b(GB1,7,1088,1142,T,b1_lonic,HG,True,major=1,minor=None); b(GB1,7,1160,1214,T,b1_ulex,HG,True,major=1,minor=None)
b(GB1,7,1252,1284,U,b1_monol,ORANGE); b(GB1,7,1308,1362,T,b1_dryop,ORANGE,True,major=1,minor=None)
b(GB1,7,1375,1428,T,b1_polyp,ORANGE,True,major=1,minor=None); b(GB1,7,1441,1494,T,b1_pterid,ORANGE,True,major=1,minor=None)
b(GB1,7,1508,1550,U,b1_equis,ORANGE)
b(GB1,8,72,512,5.35,b1_poac,GREEN,labels=('0','40','80'),label_vals=(0,40,78))
b(GB1,8,529,555,U,b1_plan,DGREEN); b(GB1,8,569,591,U,b1_rumex,DGREEN)
b(GB1,8,605,659,T,b1_rosac,GREEN,True,major=1,minor=None,labels=(),label_vals=())
b(GB1,8,672,725,T,b1_bidens,GREEN,True,major=1,minor=None,labels=('0.5',),label_vals=(.37,))
b(GB1,8,752,773,U,b1_urtica,DGREEN,labels=('0',),label_vals=(0,))
b(GB1,8,844,888,U,b1_c40,RED); b(GB1,8,898,941,U,b1_c45,RED); b(GB1,8,951,994,U,b1_c50,RED); b(GB1,8,1062,1105,U,b1_brass,RED)
gm=dict(GB1); gm.update(top=3792,base=4010,ya=3828.5,yb=3973.5)
ax=panel(gm,X(8,1245),6.8,11.02,major=10,minor=2,labels=('0','6'),label_vals=(0,6),dy=53,fs=29); ax.barh(SAMPLES,b1_micro,height=.51,color='black',clip_on=False)
tw('%',P(8,1110,1400),X(8,1147)); tw('%',P(8,1342,1400),X(8,1378))
for i,s in enumerate(SAMPLES):
    path([P(7,103,933+142*i),P(7,129,933+142*i)],lw=2)
    tw(str(s),P(7,62,928+142*i),X(7,87))
tw('B',P(7,85,100),X(7,140),weight='bold'); tw('1',P(7,147,188),X(7,178),weight='bold')
tw('Kilmore',P(7,258,105),X(7,455)); tw('(KLM surface samples)',P(7,478,105),X(7,990))
tv('Surface sample',X(7,72),Y(7,840),Y(7,300)); tv('(KLM-SS-)',X(7,128),Y(7,660),Y(7,345))
tw('Trees (AP)',P(7,478,315),X(7,735)); tw('Tall shrubs',P(7,1185,333),X(7,1388)); tw('Ferns etc.',P(8,50,243),X(8,232))
path([P(7,177,630),P(7,285,318),P(7,450,318)]); path([P(7,770,318),P(7,1104,318),P(7,995,603)])
path([P(7,1073,630),P(7,1178,362)],lw=2); path([P(7,1285,642),P(7,1388,375)],lw=2); path([P(7,1385,488),P(7,1508,245)],lw=2)
path([P(8,175,517),P(8,300,275)],lw=2); path([P(8,250,447),P(8,338,273),P(8,458,273)],lw=2)
tw('NAP1',P(8,541,268),X(8,645)); path([P(8,692,273),P(8,966,273),P(8,840,647)],lw=2)
path([P(8,893,648),P(8,928,532)],lw=2); path([P(8,915,510),P(8,1025,271),P(8,1042,271)],lw=2)
tw('NAP2',P(8,1070,268),X(8,1175)); path([P(8,1197,271),P(8,1252,271),P(8,1257,453)],lw=2)
tw('Cereal-ty.',P(8,963,478),X(8,1143)); path([P(8,1062,715),P(8,1150,528)],lw=2)
tw('Se',P(8,998,1065),X(8,1047)); dot(P(8,983,1075),RED,5)
LAB_B1=[('Picea',7,122,845,225,655),('Pinus',7,255,845,355,655),('Quercus',7,372,850,515,580),('Betula',7,462,848,578,625),
 ('Alnus',7,555,845,650,645),('Ulmus',7,612,858,725,640),('Fraxinus',7,680,855,825,572),('Corylus',7,740,850,868,605),('Salix',7,865,845,955,672),
 ('Ilex',7,1005,845,1075,710),('Lonicera',7,1085,845,1225,567),('Ulex',7,1158,840,1232,700),('Monolete spores (-per.)',7,1248,838,1558,260),
 ('Dryopteris f-m-ty.',7,1308,845,1562,355),('Polypodium',7,1382,845,1555,505),('Poaceae',8,103,835,272,530),('P. lanceolata',8,473,835,662,470),
 ('Rumex-type',8,570,840,750,495),('Rosaceae p.p.',8,628,838,830,490),('Bidens-type',8,693,840,850,545),('Urtica',8,752,838,838,672),
 ('40–44 µm',8,845,838,980,590),('45–49 µm',8,905,840,1040,590),('≥50 µm',8,965,845,1072,650),('Brassicaceae',8,1060,848,1240,465)]
for s,n,a,b_,c,d in LAB_B1: ta(s,P(n,a,b_),P(n,c,d))
ta('Pteridium',P(7,1450,838),P(8,78,530)); ta('Equisetum*',P(7,1515,840),P(8,150,490))
tv('Micro-',X(8,1272),Y(8,835),Y(8,590)); tv('charcoal',X(8,1318),Y(8,835),Y(8,525)); tv('(≥ 37 μm)',X(8,1358),Y(8,835),Y(8,475))

# ==================== B2
ax=panel(GB2,X(9,81),100,5.57,major=20,minor=2,labels=('0','20','40','60','80'),label_vals=(0,20,40,60,80),fs=28)
left=np.zeros(3)
for i,(v,c) in enumerate(zip((b2_ap,b2_tall,b2_ferns,b2_poac,b2_nap1,b2_nap2),(BLUE,GRAY,ORANGE,GREEN,DGREEN,RED))):
    cols=[c]*3
    if i==5: cols=[RED,RED,'#e5878a']
    ax.barh(SAMPLES,v,left=left,height=.515,color=cols,edgecolor='#222',lw=1.2*PT); left=left+np.array(v)
for i,c in enumerate((BLUE,GRAY,ORANGE,GREEN,DGREEN,RED)):
    x0_=X(9,83)+i*(X(9,628)-X(9,83))/6
    over.add_patch(Rectangle((x0_,Y(9,575)),(X(9,628)-X(9,83))/6,Y(9,645)-Y(9,575),fc=c,ec='none'))
U9=10.65
b(GB2,9,665,719,U9,b2_call,BROWN); b(GB2,9,757,810,T,b2_eric,HB2,True,major=1,minor=None)
b(GB2,9,829,883,U9,b2_myr,BROWN)
b(GB2,9,896,1152,U9,b2_cyp,TAN,labels=('0','10','20'),label_vals=(0,10,20))
b(GB2,9,1171,1278,U9,b2_pot,BROWN); b(GB2,9,1294,1347,U9,b2_ped,TAN); b(GB2,9,1412,1465,U9,b2_ana,TAN)
b(GB2,9,1490,1543,T,b2_nar,HB2,True,major=1,minor=None)
b(GB2,10,64,117,T,b2_raq,HB2,True,major=1,minor=None)
b(GB2,10,147,361,U9,b2_eup,TAN,labels=('0','10','20'),label_vals=(0,10,20))
b(GB2,10,411,654,U9,b2_sph,'black',labels=('0','10','20'),label_vals=(0,10,20))
b(GB2,10,708,920,U9,b2_h31,TAN,labels=('0','10','20'),label_vals=(0,10,20))
b(GB2,10,1005,1112,U9,b2_h32,TAN,labels=('0','10'),label_vals=(0,9))
b(GB2,10,1125,1232,U9,b2_h28,TAN,labels=(),label_vals=())
tw('%',P(9,604,1260),X(9,640)); tw('%',P(10,1212,1262),X(10,1248))
tw('B',P(9,85,105),X(9,140),weight='bold'); tw('2',P(9,148,197),X(9,176),weight='bold')
tv('AP',X(9,110),Y(9,535),Y(9,420)); tv('(-Alnus)',X(9,160),Y(9,535),Y(9,283),style='italic'); tv('Tall shubs',X(9,225),Y(9,537),Y(9,165))
tv('Ferns',X(9,322),Y(9,530),Y(9,300)); tv('Poaceae',X(9,410),Y(9,530),Y(9,213)); tv('NAP1',X(9,478),Y(9,533),Y(9,330))
tv('(-Poaceae)',X(9,522),Y(9,520),Y(9,235)); tv('NAP2',X(9,583),Y(9,533),Y(9,328))
path([P(9,697,447),P(9,826,141),P(9,1150,141)]); tw('Bog / Heath',P(9,1253,140),X(9,1558))
path([P(10,95,141),P(10,610,142),P(10,522,330)]); path([P(10,775,382),P(10,902,133),P(10,942,133)],lw=2)
path([P(10,1008,133),P(10,1055,133)],lw=2); tw('NPP',P(10,1072,143),X(10,1168)); path([P(10,1184,133),P(10,1225,133),P(10,1225,403)],lw=2)
LAB_B2=[('Calluna',9,668,672,782,458),('Erica cinerea',9,745,680,960,255),('Myrica',9,828,680,948,440),('Cyperaceae p.p.',9,905,695,1140,258),
 ('Potentilla-type',9,1170,685,1400,228),('Pedicularis',9,1288,680,1462,335),('R. aquaticus-type',10,65,680,322,170),('Eu-Potamogeton',10,140,680,390,190),
 ('Sphagnum',10,412,685,583,345),('HdV-31A: Amphitrema',10,712,680,990,135),('flavum',10,782,680,873,482)]
for s,n,a,b_,c,d in LAB_B2: ta(s,P(n,a,b_),P(n,c,d))
ta('Anagallis tenella-ty.',P(9,1408,680),P(10,130,190)); ta('Narthecium',P(9,1492,675),P(10,150,300))
tv('HdV-32:',X(10,1020),Y(10,672),Y(10,372),style='italic'); tv('Assulina',X(10,1068),Y(10,672),Y(10,340),style='italic')
tv('HdV-28:',X(10,1140),Y(10,672),Y(10,370)); tv('Copepoda',X(10,1187),Y(10,672),Y(10,287)); tv('Sample No.',X(10,1310),Y(10,665),Y(10,225))
for s,y in (('1',770),('2',918),('3',1065)): tw(s,P(10,1296,y),X(10,1326))
tw('36%',P(10,918,780),X(10,997)); tw('37%',P(10,610,922),X(10,692))
over.fill([X(10,595),X(10,607),X(10,595)],[Y(10,900),Y(10,924),Y(10,948)],color='black')
over.fill([X(10,906),X(10,917),X(10,906)],[Y(10,760),Y(10,778),Y(10,796)],color=TAN)
tw('Dr',P(9,1343,770),X(9,1392)); dot(P(9,1328,783),TAN,5)
rich([('Dr = ','normal'),('Drosera rotundifolia/anglica','italic')],X(9,755),X(9,1427),Y(9,1393))
rich([('Se = ','normal'),('Secale','italic')],X(9,1483),X(10,178),Y(9,1393))
tw('Analyst = Steffen Wolters, 1994',P(10,708,1372),X(10,1233))

# outer frame
over.add_patch(Rectangle((68,21),3237-68,4864-21,fill=False,ec='#555',lw=3))

fig.savefig('out.png',dpi=100,facecolor='white')
